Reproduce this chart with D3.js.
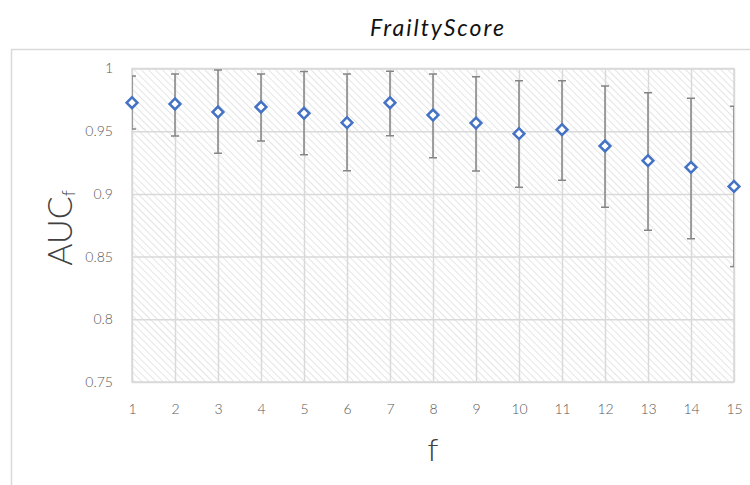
<!DOCTYPE html>
<html>
<head>
<meta charset="utf-8">
<script src="https://cdn.jsdelivr.net/npm/d3@7/dist/d3.min.js"></script>
<style>
  html, body { margin: 0; padding: 0; background: #fff; }
  svg { display: block; }
</style>
</head>
<body>
<svg id="chart" width="750" height="485"></svg>
<script>
// Number of features f
const features = [1, 2, 3, 4, 5, 6, 7, 8, 9, 10, 11, 12, 13, 14, 15];
// Mean AUC for each f
const aucMean = [0.9727, 0.9717, 0.9653, 0.9693, 0.9643, 0.9568, 0.9727, 0.9629, 0.9565, 0.9480, 0.9512, 0.9382, 0.9265, 0.9212, 0.9060];
// Upper / lower ends of the error bars
const aucHigh = [0.9940, 0.9956, 0.9988, 0.9956, 0.9977, 0.9956, 0.9978, 0.9956, 0.9935, 0.9903, 0.9903, 0.9860, 0.9807, 0.9762, 0.9699];
const aucLow  = [0.9518, 0.9462, 0.9324, 0.9422, 0.9313, 0.9185, 0.9464, 0.9289, 0.9183, 0.9053, 0.9108, 0.8893, 0.8710, 0.8643, 0.8420];
const yTicks = [0.75, 0.8, 0.85, 0.9, 0.95, 1];
const yTickLabels = ["0.75", "0.8", "0.85", "0.9", "0.95", "1"];

const svg = d3.select("#chart");
const plot = { left: 132, right: 734, top: 68.5, bottom: 382 };
const labelFont = "Lato, 'Open Sans', sans-serif";

const x = d3.scaleLinear().domain([1, 15]).range([plot.left, plot.right]);
const y = d3.scaleLinear().domain([0.75, 1]).range([plot.bottom, plot.top]);

// outer chart frame
svg.append("rect")
  .attr("x", 11.5).attr("y", 49.5).attr("width", 760).attr("height", 460)
  .attr("fill", "#fff").attr("stroke", "#d9d9d9").attr("stroke-width", 1.5);

// diagonal hatch used for the plot area
const defs = svg.append("defs");
const pat = defs.append("pattern")
  .attr("id", "hatch").attr("patternUnits", "userSpaceOnUse")
  .attr("width", 5).attr("height", 5)
  .attr("patternTransform", "rotate(-45)");
pat.append("rect").attr("width", 5).attr("height", 5).attr("fill", "#fff");
pat.append("line").attr("x1", 0).attr("y1", 0).attr("x2", 0).attr("y2", 5)
  .attr("stroke", "#e2e2e2").attr("stroke-width", 1.8);

defs.append("clipPath").attr("id", "plotClip")
  .append("rect")
  .attr("x", plot.left).attr("y", plot.top)
  .attr("width", plot.right - plot.left).attr("height", plot.bottom - plot.top);

svg.append("rect")
  .attr("x", plot.left).attr("y", plot.top)
  .attr("width", plot.right - plot.left).attr("height", plot.bottom - plot.top)
  .attr("fill", "url(#hatch)");

// gridlines
const gridColor = "#d9d9d9";
svg.append("g")
  .attr("transform", `translate(0,${plot.bottom})`)
  .call(d3.axisBottom(x).tickValues(features).tickSize(-(plot.bottom - plot.top)).tickFormat(""))
  .call(g => g.select(".domain").remove())
  .call(g => g.selectAll("line").attr("stroke", gridColor).attr("stroke-width", 1.5));

svg.append("g")
  .attr("transform", `translate(${plot.left},0)`)
  .call(d3.axisLeft(y).tickValues(yTicks).tickSize(-(plot.right - plot.left)).tickFormat(""))
  .call(g => g.select(".domain").remove())
  .call(g => g.selectAll("line").attr("stroke", gridColor).attr("stroke-width", 1.5));

svg.append("rect")
  .attr("x", plot.left).attr("y", plot.top)
  .attr("width", plot.right - plot.left).attr("height", plot.bottom - plot.top)
  .attr("fill", "none").attr("stroke", gridColor).attr("stroke-width", 1.5);

// tick labels
svg.append("g")
  .attr("transform", `translate(0,${plot.bottom})`)
  .attr("color", "#595959")
  .call(d3.axisBottom(x).tickValues(features).tickSize(0).tickPadding(22).tickFormat(d3.format("d")))
  .call(g => g.select(".domain").remove())
  .call(g => g.selectAll("text").attr("font-size", 14).attr("font-family", labelFont)
    .attr("font-weight", 300).attr("fill", "#595959"));

svg.append("g")
  .attr("transform", `translate(${plot.left},0)`)
  .attr("color", "#595959")
  .call(d3.axisLeft(y).tickValues(yTicks).tickSize(0).tickPadding(19)
    .tickFormat((d, i) => yTickLabels[i]))
  .call(g => g.select(".domain").remove())
  .call(g => g.selectAll("text").attr("font-size", 14).attr("font-family", labelFont)
    .attr("font-weight", 300).attr("fill", "#595959"));

// error bars
const bars = svg.append("g").attr("clip-path", "url(#plotClip)")
  .attr("stroke", "#858585").attr("stroke-width", 1.5).attr("fill", "none");
features.forEach((f, i) => {
  const cx = x(f);
  bars.append("line").attr("x1", cx).attr("x2", cx).attr("y1", y(aucHigh[i])).attr("y2", y(aucLow[i]));
  bars.append("line").attr("x1", cx - 4).attr("x2", cx + 4).attr("y1", y(aucHigh[i])).attr("y2", y(aucHigh[i]));
  bars.append("line").attr("x1", cx - 4).attr("x2", cx + 4).attr("y1", y(aucLow[i])).attr("y2", y(aucLow[i]));
});

// markers
const diamond = d3.symbol().type(d3.symbolSquare).size(58);
svg.append("g").selectAll("path")
  .data(features)
  .join("path")
  .attr("d", diamond)
  .attr("transform", (d, i) => `translate(${x(d)},${y(aucMean[i])}) rotate(45)`)
  .attr("fill", "#fff").attr("stroke", "#4472c4").attr("stroke-width", 2.5);

// title
svg.append("text")
  .attr("x", 438).attr("y", 36)
  .attr("text-anchor", "middle")
  .attr("font-family", labelFont)
  .attr("font-style", "italic")
  .attr("font-weight", 400)
  .attr("font-size", 23)
  .attr("letter-spacing", 2)
  .attr("fill", "#111")
  .text("FrailtyScore");

// axis titles
svg.append("text")
  .attr("x", 433).attr("y", 461)
  .attr("text-anchor", "middle")
  .attr("font-family", labelFont).attr("font-weight", 300)
  .attr("font-size", 32).attr("fill", "#404040")
  .text("f");

const yt = svg.append("text")
  .attr("transform", "translate(72,228) rotate(-90)")
  .attr("text-anchor", "middle")
  .attr("font-family", labelFont).attr("font-weight", 300)
  .attr("font-size", 34).attr("fill", "#404040");
yt.append("tspan").text("AUC");
yt.append("tspan").attr("font-size", 18).attr("dy", 3).text("f");
</script>
</body>
</html>
